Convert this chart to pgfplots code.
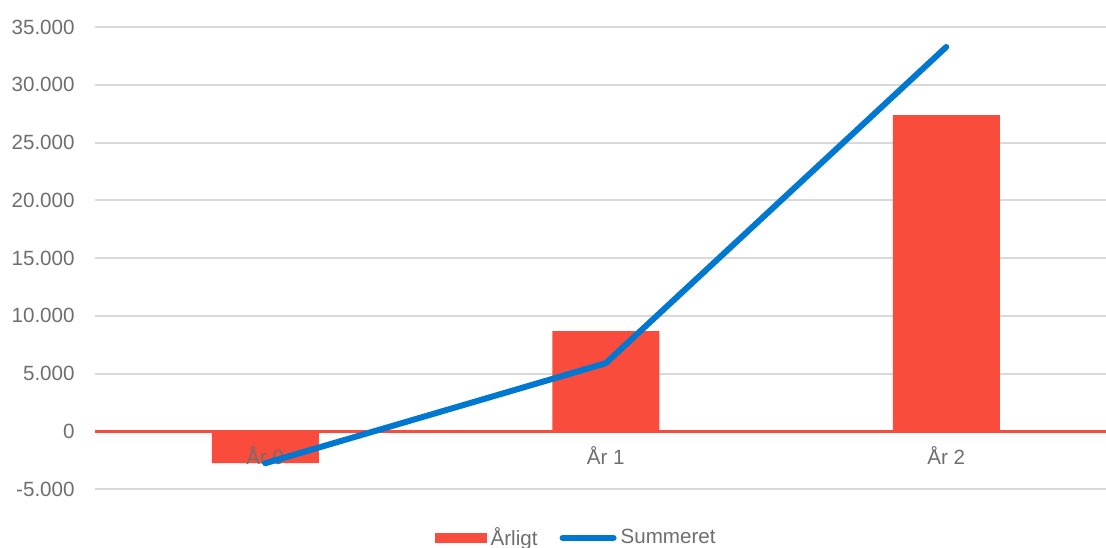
\documentclass[border=0pt]{standalone}
\usepackage{fontspec}
\setmainfont{Liberation Sans}
\usepackage{pgfplots}
\pgfplotsset{compat=1.18}
\definecolor{barred}{HTML}{F94C3C}
\definecolor{lineblue}{HTML}{0077D0}
\definecolor{txtgrey}{HTML}{6E6E6E}
\definecolor{gridgrey}{HTML}{D9D9D9}
% tick labels above the bars, line above everything
\pgfplotsset{layers/mylayers/.define layer set={axis background,axis grid,axis ticks,axis lines,pre main,main,axis tick labels,axis descriptions,axis foreground}{
    grid style={/pgfplots/on layer=axis grid},
    tick style={/pgfplots/on layer=axis ticks},
    axis line style={/pgfplots/on layer=axis lines},
    label style={/pgfplots/on layer=axis descriptions},
    legend style={/pgfplots/on layer=axis descriptions},
    title style={/pgfplots/on layer=axis descriptions},
    ticklabel style={/pgfplots/on layer=axis tick labels},
    axis background@ style={/pgfplots/on layer=axis background},
}}

\begin{document}
\begin{tikzpicture}
\begin{axis}[
    set layers=mylayers,
    scale only axis,
    width=510.75bp, height=231bp,
    xmin=-0.5, xmax=2.5,
    ymin=-5000, ymax=35000,
    xtick={0,1,2},
    xticklabels={År 0, År 1, År 2},
    ytick={-5000,0,5000,10000,15000,20000,25000,30000,35000},
    scaled y ticks=false,
    /pgf/number format/.cd, 1000 sep={.}, assume math mode=true,
    /pgfplots/.cd,
    axis line style={draw=none},
    major tick length=0pt,
    ymajorgrids,
    grid style={gridgrey, line width=1bp},
    extra y ticks={0},
    extra y tick labels={},
    extra y tick style={grid style={barred, line width=1.7bp}},
    ticklabel style={font=\fontsize{10.3bp}{12bp}\selectfont, text=txtgrey},
    yticklabel style={anchor=east, inner sep=0pt, xshift=-10bp},
    xticklabel style={anchor=center, inner sep=0pt, yshift=16.5bp},
    legend style={
        at={(0.47,-0.106)}, anchor=center,
        draw=none, fill=none, inner sep=0pt, outer sep=0pt,
        legend columns=2,
        font=\fontsize{10.3bp}{12bp}\selectfont,
        nodes={inner sep=0pt, text=txtgrey},
        /tikz/every odd column/.append style={column sep=2bp},
        /tikz/every even column/.append style={column sep=11bp},
    },
]
    \addplot[ybar, bar width=53.5bp, fill=barred, draw=none,
        legend image code/.code={\fill[barred] (0bp,-2.7bp) rectangle (26bp,2.7bp);}]
        coordinates {(0,-2770) (1,8660) (2,27380)};
    \addlegendentry{Årligt}
    \addplot[on layer=axis foreground, lineblue, line width=3bp, line cap=round, line join=round, mark=none,
        legend image code/.code={\draw[lineblue, line width=3bp, line cap=round] (1.5bp,0) -- (27bp,0);}]
        coordinates {(0,-2770) (1,5890) (2,33270)};
    \addlegendentry{Summeret}
\end{axis}
\pgfresetboundingbox
\path (-47.5bp,-29.5bp) rectangle (505.5bp,244.5bp);
\end{tikzpicture}
\end{document}
